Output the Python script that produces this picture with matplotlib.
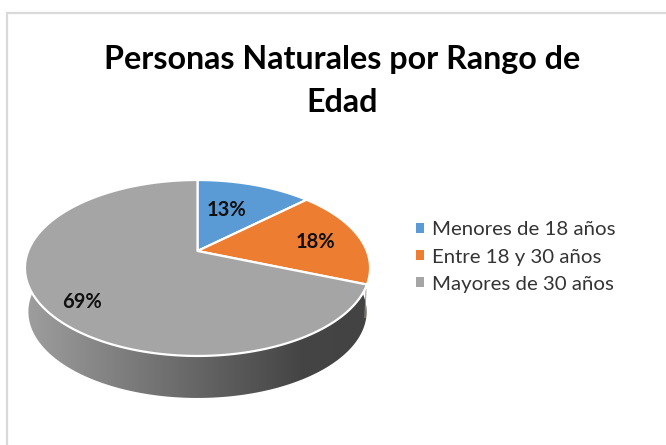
import numpy as np
import matplotlib
matplotlib.use("Agg")
import matplotlib.pyplot as plt
from matplotlib.patches import Polygon, Patch
from matplotlib.colors import LinearSegmentedColormap

# Data
categories = ["Menores de 18 años", "Entre 18 y 30 años", "Mayores de 30 años"]
values = [13, 18, 69]
title = "Personas Naturales por Rango de\nEdad"

# Styles
colors = ["#5B9BD5", "#ED7D31", "#A5A5A5"]
label_xy = [(227, 210), (315, 242), (82, 302)]
FONT = "Lato"

# Tilted-disc projection, in pixels
CX, CY = 197.5, 251.0
K, A, R = 0.193, 84.7, 169.3
DEPTH = 42.0
BOTTOM_SCALE = 0.98


def project(theta, r=1.0):
    """theta: radians clockwise from 12 o'clock on the disc."""
    u, v = r * np.sin(theta), r * np.cos(theta)
    d = 1 + K * v
    return CX + R * u / d, CY - A * v / d


fig = plt.figure(figsize=(6.66, 4.45), dpi=100, facecolor="white")
ax = fig.add_axes([0, 0, 1, 1])
ax.set_xlim(0, 666)
ax.set_ylim(445, 0)
ax.axis("off")

# Chart frame
ax.plot([7, 7, 666], [445, 12.5, 12.5], color="#D9D9D9", lw=1.6, solid_joinstyle="miter")

# Side wall of the disc, with its horizontal gradient
t = np.linspace(0, 2 * np.pi, 721)
ex, ey = project(t)
order_t = np.linspace(np.pi / 2 - 0.1, 3 * np.pi / 2 + 0.15, 300)
ox, oy = project(order_t)
obx = CX + (ox - CX) * BOTTOM_SCALE
oby = ey.max() + DEPTH - (ey.max() - oy) * BOTTOM_SCALE
wall = Polygon(np.c_[np.r_[ox, obx[::-1]], np.r_[oy, oby[::-1]]], closed=True,
               transform=ax.transData, fc="none", ec="none")
ax.add_patch(wall)
cmap = LinearSegmentedColormap.from_list(
    "wall", [(0, "#9E9E9E"), (0.3, "#7C7C7C"), (0.55, "#606060"), (0.8, "#454545"), (1, "#434343")])
img = ax.imshow(np.linspace(0, 1, 256)[None, :], cmap=cmap, aspect="auto",
                extent=[25, 370, 410, 250], zorder=1)
img.set_clip_path(wall)
ax.set_xlim(0, 666)
ax.set_ylim(445, 0)

# Top face, one wedge per value
edges = np.cumsum([0] + values) / sum(values) * 2 * np.pi
for i, val in enumerate(values):
    th = np.linspace(edges[i], edges[i + 1], 200)
    x, y = project(th)
    ax.add_patch(Polygon(np.c_[np.r_[CX, x], np.r_[CY, y]], closed=True, fc=colors[i],
                         ec="white", lw=1.6, joinstyle="round", zorder=2))
    ax.text(*label_xy[i], f"{val}%", ha="center", va="center", fontsize=14.5,
            fontweight="bold", family=FONT, color="#101010", zorder=3)

# Thin seam below the orange/grey boundary
sx, sy = project(edges[2])
ax.plot([sx - 1, sx - 2], [sy + 5, sy + 33], color="#A89888", lw=0.7, zorder=1.5)

# Title
ax.text(342, 60, title.split("\n")[0], ha="center", va="center", fontsize=23.2,
        fontweight="bold", family=FONT, color="black")
ax.text(342, 103, title.split("\n")[1], ha="center", va="center", fontsize=23.2,
        fontweight="bold", family=FONT, color="black")

# Legend
handles = [Patch(fc=c, ec="none") for c in colors]
ax.legend(handles, categories, loc="center left", bbox_to_anchor=(416, 257),
          bbox_transform=ax.transData, frameon=False,
          prop={"family": FONT, "size": 14.7}, handlelength=0.39, handleheight=0.39,
          handletextpad=0.39, labelspacing=0.5, borderpad=0, borderaxespad=0,
          labelcolor="#333333")

fig.savefig("out.png", dpi=100, facecolor="white")
